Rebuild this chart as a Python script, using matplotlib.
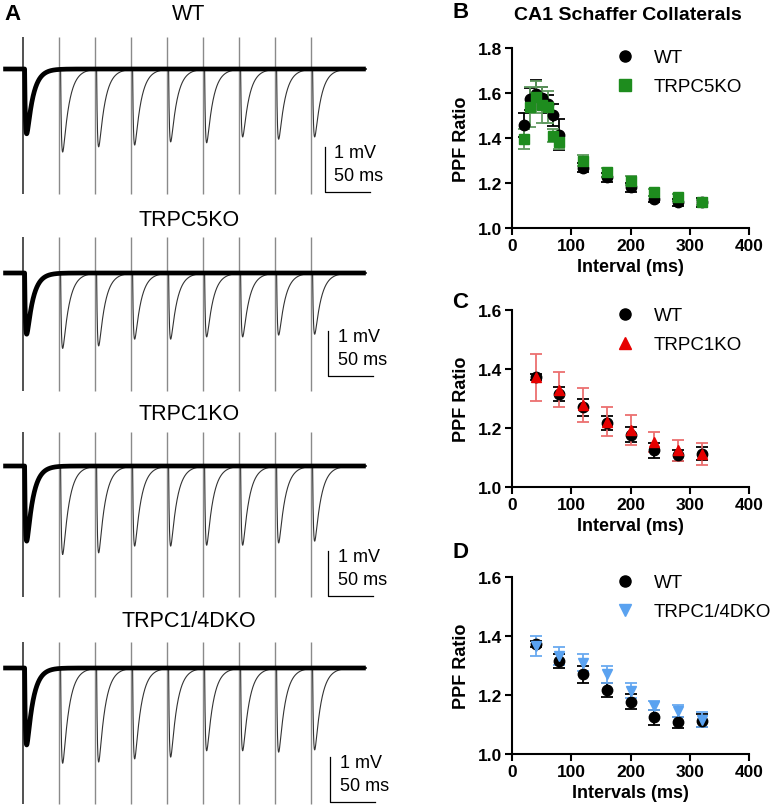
import numpy as np
import matplotlib
matplotlib.use("Agg")
import matplotlib.pyplot as plt
from matplotlib.lines import Line2D

plt.rcParams['font.family'] = ['Liberation Sans', 'DejaVu Sans']

# --- data -------------------------------------------------------------
# panel A : representative paired-pulse sweeps (8 intervals overlaid)
trace_names = ["WT", "TRPC5KO", "TRPC1KO", "TRPC1/4DKO"]
trace_intervals = [40, 80, 120, 160, 200, 240, 280, 320]          # ms
first_amp = [1.44, 1.36, 1.67, 1.71]                              # mV
second_amp = [
    [1.84, 1.73, 1.69, 1.62, 1.64, 1.51, 1.56, 1.51],
    [1.67, 1.62, 1.47, 1.47, 1.42, 1.42, 1.38, 1.36],
    [1.96, 1.93, 1.78, 1.78, 1.76, 1.76, 1.71, 1.67],
    [2.11, 2.09, 2.02, 1.98, 1.84, 1.84, 1.87, 1.82],
]

# panel B
b_int = [20, 30, 40, 50, 60, 70, 80, 120, 160, 200, 240, 280, 320]
b_wt = [1.459, 1.574, 1.597, 1.577, 1.552, 1.503, 1.415, 1.267, 1.226, 1.181, 1.129, 1.114, 1.114]
b_wt_err = [0.053, 0.05, 0.06, 0.05, 0.04, 0.05, 0.07, 0.02, 0.02, 0.02, 0.015, 0.015, 0.02]
b_ko = [1.396, 1.537, 1.582, 1.548, 1.537, 1.411, 1.381, 1.300, 1.248, 1.211, 1.159, 1.137, 1.114]
b_ko_err = [0.045, 0.09, 0.07, 0.08, 0.07, 0.03, 0.03, 0.025, 0.02, 0.02, 0.015, 0.015, 0.01]

# panels C and D
cd_int = [40, 80, 120, 160, 200, 240, 280, 320]
cd_wt = [1.372, 1.315, 1.270, 1.217, 1.177, 1.124, 1.107, 1.113]
cd_wt_err = [0.01, 0.025, 0.03, 0.025, 0.025, 0.025, 0.02, 0.022]
c_ko = [1.372, 1.330, 1.278, 1.222, 1.194, 1.152, 1.124, 1.113]
c_ko_err = [0.08, 0.06, 0.058, 0.05, 0.05, 0.035, 0.035, 0.037]
d_ko = [1.366, 1.333, 1.310, 1.270, 1.214, 1.163, 1.147, 1.116]
d_ko_err = [0.035, 0.03, 0.03, 0.03, 0.025, 0.015, 0.02, 0.025]

# --- figure -----------------------------------------------------------
W, H = 776, 812
fig = plt.figure(figsize=(W / 100, H / 100), dpi=100)

def px_text(x, y, s, **kw):
    fig.text(x / W, 1 - y / H, s, **kw)

# --- panel A traces ---------------------------------------------------
PX_MS = 0.9      # pixels per ms
PX_MV = 45.0     # pixels per mV
STIM_X = 23
baselines = [70, 274, 467, 669]
title_y = [15, 220, 415, 622]
art_top = [0.71, 0.80, 0.76, 0.58]
art_bot = [2.78, 2.62, 2.91, 3.02]
bar_x = [335, 339, 339, 341]
bar_bot = [-2.73, -2.29, -2.89, -2.98]

t = np.arange(-22, 381, 0.1)

def fepsp(t, t0, amp):
    d, tr, td = 1.8, 1.0, 7.0
    s = np.clip(t - t0 - d, 0, None)
    shape = np.exp(-s / td) - np.exp(-s / tr)
    tp = tr * td / (td - tr) * np.log(td / tr)
    peak = np.exp(-tp / td) - np.exp(-tp / tr)
    return -amp * shape / peak

for i, name in enumerate(trace_names):
    b = baselines[i]
    ax = fig.add_axes([0, 1 - (b + 140) / H, 400 / W, 190 / H])
    ax.set_xlim(-STIM_X / PX_MS, (400 - STIM_X) / PX_MS)
    ax.set_ylim(-140 / PX_MV, 50 / PX_MV)
    ax.axis('off')
    # stimulus artefacts
    ax.vlines(0, -art_bot[i], art_top[i], color='#222222', lw=1.1, zorder=3)
    ax.vlines(trace_intervals, -art_bot[i], art_top[i], color='#8a8a8a', lw=1.0, zorder=1)
    # second responses (thin)
    for k, iv in enumerate(trace_intervals):
        v = fepsp(t, 0, first_amp[i]) + fepsp(t, iv, second_amp[i][k])
        m = t > iv - 1
        ax.plot(t[m], v[m], color='#333333', lw=0.8, zorder=2)
    # overlaid baseline + first response (thick)
    ax.plot(t, fepsp(t, 0, first_amp[i]), color='black', lw=3.4,
            solid_capstyle='butt', zorder=4)
    # scale bar
    x0, y0 = bar_x[i], bar_bot[i]
    ax.plot([x0, x0, x0 + 50], [y0 + 1, y0, y0], color='black', lw=0.9)
    ax.text(x0 + 11, y0 + 0.88, "1 mV", fontsize=13, va='center', ha='left')
    ax.text(x0 + 11, y0 + 0.36, "50 ms", fontsize=13, va='center', ha='left')
    px_text(189, title_y[i], name, fontsize=15.5, ha='center', va='center')

# --- panels B-D ---------------------------------------------------------
def style(ax, ymin, ymax, step, xlabel):
    ax.set_xlim(0, 400)
    ax.set_ylim(ymin, ymax)
    ax.set_xticks([0, 100, 200, 300, 400])
    ax.set_yticks(np.round(np.arange(ymin, ymax + 1e-6, step), 1))
    ax.yaxis.set_major_formatter(matplotlib.ticker.FormatStrFormatter('%.1f'))
    for s in ['top', 'right']:
        ax.spines[s].set_visible(False)
    for s in ['left', 'bottom']:
        ax.spines[s].set_linewidth(1.5)
    ax.tick_params(direction='out', length=5, width=1.5, labelsize=12.5, pad=2)
    for lab in ax.get_xticklabels() + ax.get_yticklabels():
        lab.set_fontweight('bold')
    ax.set_ylabel("PPF Ratio", fontsize=13, fontweight='bold', labelpad=6)
    ax.set_xlabel(xlabel, fontsize=13, fontweight='bold', labelpad=4)
    for a in ax.collections + ax.lines:
        a.set_clip_on(False)

def legend(ax, y_top, specs):
    handles = [Line2D([], [], ls='', marker=mk, color=c, ms=8) for mk, c, _ in specs]
    labels = [lab for _, _, lab in specs]
    ax.legend(handles, labels, loc='upper left', bbox_to_anchor=(616 / W, 1 - y_top / H),
              bbox_transform=fig.transFigure, frameon=False, fontsize=13.5,
              handlelength=1.0, handletextpad=1.0, labelspacing=0.65,
              borderpad=0, borderaxespad=0)

def axes_px(left, right, y_bottom, y_top):
    return fig.add_axes([left / W, 1 - y_bottom / H, (right - left) / W, (y_bottom - y_top) / H])

green, green_err = '#1e8c1e', '#5f9a5f'
red, red_err = '#e60000', '#ec7070'
blue, blue_err = '#5aa2f0', '#6aaaf0'

# B
axB = axes_px(512, 749, 229, 49)
axB.errorbar(b_int, b_wt, yerr=b_wt_err, fmt='o', color='black', ms=7.5,
             capsize=4, elinewidth=1.3, capthick=1.3)
axB.errorbar(b_int, b_ko, yerr=b_ko_err, fmt='s', color=green, ecolor=green_err, ms=7.5,
             capsize=4, elinewidth=1.3, capthick=1.3)
style(axB, 1.0, 1.8, 0.2, "Interval (ms)")
legend(axB, 50, [('o', 'black', 'WT'), ('s', green, 'TRPC5KO')])

# C
axC = axes_px(512, 749, 488, 311)
axC.errorbar(cd_int, cd_wt, yerr=cd_wt_err, fmt='o', color='black', ms=7.5,
             capsize=4, elinewidth=1.3, capthick=1.3)
axC.errorbar(cd_int, c_ko, yerr=c_ko_err, fmt='^', color=red, ecolor=red_err, ms=7.5,
             capsize=4, elinewidth=1.3, capthick=1.3)
style(axC, 1.0, 1.6, 0.2, "Interval (ms)")
legend(axC, 308, [('o', 'black', 'WT'), ('^', red, 'TRPC1KO')])

# D
axD = axes_px(512, 749, 755, 578)
axD.errorbar(cd_int, cd_wt, yerr=cd_wt_err, fmt='o', color='black', ms=7.5,
             capsize=4, elinewidth=1.3, capthick=1.3)
axD.errorbar(cd_int, d_ko, yerr=d_ko_err, fmt='v', color=blue, ecolor=blue_err, ms=7.5,
             capsize=4, elinewidth=1.3, capthick=1.3)
style(axD, 1.0, 1.6, 0.2, "Intervals (ms)")
legend(axD, 575, [('o', 'black', 'WT'), ('v', blue, 'TRPC1/4DKO')])

# panel letters and title
px_text(4, 14, "A", fontsize=16, fontweight='bold', va='center')
px_text(452, 13, "B", fontsize=16, fontweight='bold', va='center')
px_text(452, 303, "C", fontsize=16, fontweight='bold', va='center')
px_text(452, 553, "D", fontsize=16, fontweight='bold', va='center')
px_text(628, 15, "CA1 Schaffer Collaterals", fontsize=14, fontweight='bold',
        ha='center', va='center')

fig.savefig("out.png", dpi=100, facecolor='white')
